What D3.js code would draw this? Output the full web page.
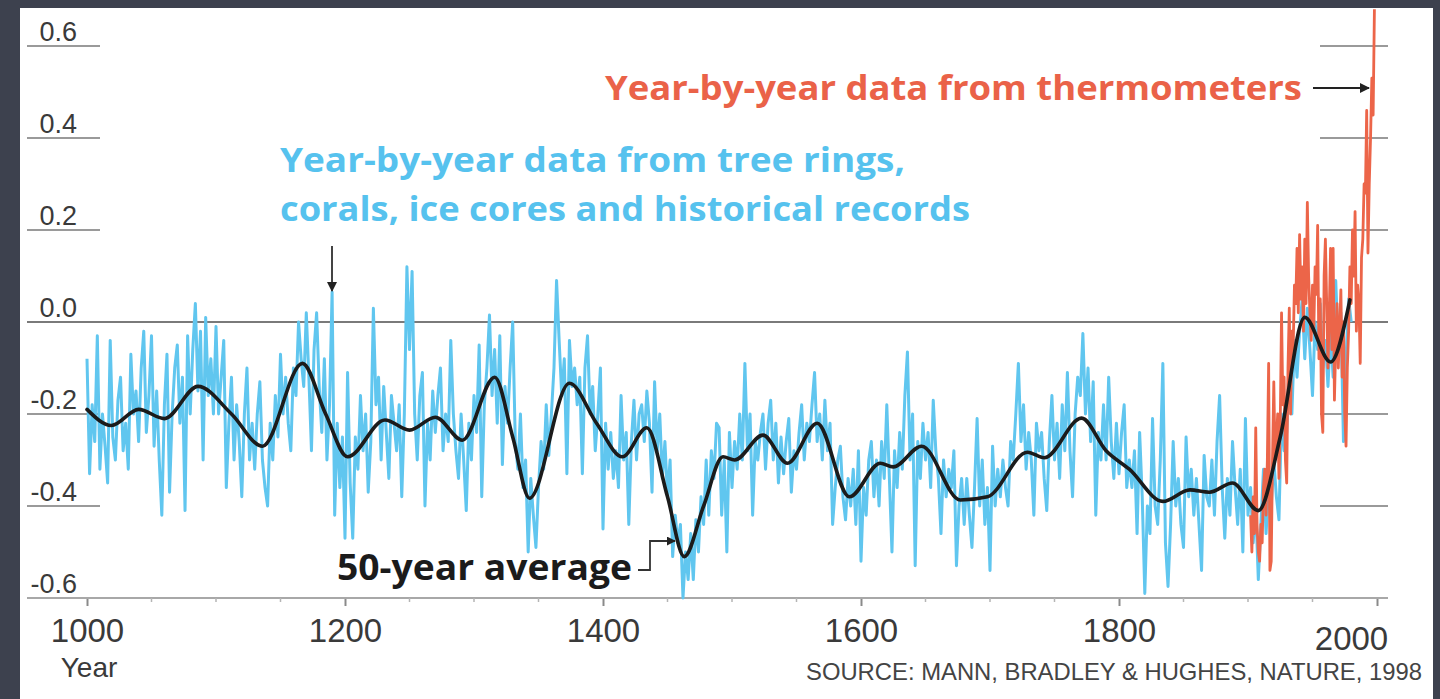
<!DOCTYPE html>
<html><head><meta charset="utf-8">
<script src="https://cdn.jsdelivr.net/npm/d3@7"></script>
<style>
html,body{margin:0;padding:0;background:#3d414e;overflow:hidden;}
svg{display:block}
</style></head><body>
<svg id="chart" width="1440" height="699"></svg>
<script>
// ---------------- DATA ----------------
// Reconstructed (proxy) annual anomalies, read every 2 years from 1000
const proxyStart = 1000;
const proxyStep = 2;
const proxyValues = [
-0.08,-0.33,-0.18,-0.26,-0.03, -0.32,-0.2,-0.27,-0.35,-0.04,
-0.25,-0.3,-0.17,-0.12,-0.28, -0.22,-0.32,-0.07,-0.2,-0.15,
-0.26,-0.1,-0.02,-0.24,-0.16, -0.03,-0.27,-0.15,-0.3,-0.42,
-0.18,-0.07,-0.37,-0.2,-0.1, -0.05,-0.22,-0.12,-0.41,-0.03,
-0.2,-0.06,0.04,-0.15,-0.02, -0.3,0.01,-0.16,-0.08,-0.2,
-0.01,-0.2,-0.12,-0.04,-0.36, -0.22,-0.12,-0.3,-0.18,-0.26,
-0.38,-0.2,-0.1,-0.3,-0.22, -0.32,-0.2,-0.13,-0.3,-0.36,
-0.4,-0.22,-0.3,-0.16,-0.25, -0.07,-0.2,-0.12,-0.22,-0.28,
-0.1,-0.16,0.0,-0.08,-0.14, 0.02,-0.12,-0.28,-0.06,0.02,
-0.14,-0.24,-0.08,-0.3,-0.18, 0.065,-0.42,-0.22,-0.36,-0.25,
-0.47,-0.11,-0.35,-0.47,-0.25, -0.32,-0.16,-0.28,-0.2,-0.37,
-0.26,0.03,-0.18,-0.12,-0.3, -0.14,-0.24,-0.34,-0.16,-0.22,
-0.28,-0.18,-0.38,-0.2,0.12, -0.06,0.11,-0.2,-0.3,-0.16,
-0.11,-0.4,-0.22,-0.3,-0.15, -0.24,-0.16,-0.1,-0.28,-0.2,
-0.26,-0.04,-0.2,-0.28,-0.34, -0.2,-0.3,-0.41,-0.22,-0.3,
-0.16,-0.24,-0.05,-0.38,-0.18, -0.1,0.015,-0.16,-0.06,-0.22,
-0.03,-0.31,-0.14,-0.22,-0.1, 0.0,-0.26,-0.32,-0.2,-0.36,
-0.3,-0.5,-0.34,-0.42,-0.49, -0.36,-0.26,-0.32,-0.18,-0.29,
-0.2,-0.1,0.09,-0.04,-0.16, -0.08,-0.33,-0.04,-0.14,-0.1,
-0.18,-0.12,-0.33,-0.1,-0.03, -0.2,-0.14,-0.28,-0.2,-0.1,
-0.45,-0.22,-0.32,-0.24,-0.34, -0.28,-0.36,-0.16,-0.3,-0.24,
-0.44,-0.26,-0.17,-0.3,-0.2, -0.18,-0.26,-0.15,-0.22,-0.37,
-0.13,-0.28,-0.2,-0.34,-0.26, -0.38,-0.3,-0.51,-0.42,-0.48,
-0.44,-0.6,-0.5,-0.56,-0.46, -0.56,-0.43,-0.5,-0.38,-0.44,
-0.3,-0.42,-0.28,-0.34,-0.22, -0.23,-0.42,-0.3,-0.5,-0.24,
-0.36,-0.26,-0.32,-0.2,-0.3, -0.09,-0.28,-0.2,-0.42,-0.26,
-0.3,-0.24,-0.2,-0.32,-0.22, -0.17,-0.3,-0.22,-0.35,-0.25,
-0.33,-0.26,-0.21,-0.37,-0.28, -0.32,-0.24,-0.18,-0.3,-0.22,
-0.26,-0.18,-0.11,-0.26,-0.2, -0.3,-0.17,-0.28,-0.22,-0.44,
-0.36,-0.3,-0.27,-0.38,-0.43, -0.34,-0.4,-0.32,-0.44,-0.28,
-0.52,-0.36,-0.42,-0.3,-0.26, -0.38,-0.3,-0.4,-0.26,-0.34,
-0.18,-0.34,-0.5,-0.28,-0.36, -0.24,-0.32,-0.16,-0.065,-0.3,
-0.2,-0.53,-0.26,-0.34,-0.22, -0.3,-0.24,-0.36,-0.17,-0.28,
-0.34,-0.46,-0.3,-0.38,-0.32, -0.36,-0.28,-0.53,-0.4,-0.34,
-0.44,-0.34,-0.42,-0.49,-0.36, -0.21,-0.4,-0.3,-0.44,-0.36,
-0.54,-0.27,-0.4,-0.32,-0.38, -0.3,-0.36,-0.4,-0.26,-0.3,
-0.2,-0.09,-0.26,-0.18,-0.32, -0.24,-0.3,-0.42,-0.22,-0.28,
-0.24,-0.34,-0.41,-0.26,-0.16, -0.3,-0.22,-0.34,-0.18,-0.28,
-0.11,-0.28,-0.38,-0.2,-0.12, -0.16,-0.025,-0.2,-0.1,-0.26,
-0.13,-0.42,-0.24,-0.3,-0.18, -0.3,-0.12,-0.26,-0.34,-0.22,
-0.33,-0.24,-0.18,-0.36,-0.3, -0.36,-0.28,-0.46,-0.24,-0.38,
-0.59,-0.4,-0.46,-0.21,-0.4, -0.44,-0.3,-0.09,-0.48,-0.575,
-0.44,-0.26,-0.4,-0.34,-0.44, -0.49,-0.25,-0.38,-0.32,-0.42,
-0.34,-0.44,-0.54,-0.29,-0.38, -0.4,-0.3,-0.42,-0.26,-0.16,
-0.36,-0.47,-0.34,-0.42,-0.26, -0.36,-0.44,-0.32,-0.5,-0.21,
-0.42,-0.36,-0.48,-0.4,-0.56, -0.44,-0.32,-0.46,-0.36,-0.4,
-0.3,-0.38,-0.43,-0.2,-0.28, -0.24,-0.1,-0.2,-0.04,-0.12,
-0.02,0.05,-0.08,0.03,-0.06, -0.16,0.0,-0.06,0.04,-0.1,
-0.04,-0.14,-0.02,-0.12,0.09, -0.06,0.02,-0.26,-0.08,0.05,
0.0
];

// Instrumental (thermometer) annual anomalies 1902-1998
const thermoStart = 1902;
const thermoValues = [
-0.42,-0.5,-0.38,-0.46,-0.23,-0.44,-0.5,-0.52,-0.44,-0.48,
-0.36,-0.32,-0.42,-0.3,-0.09,-0.54,-0.52,-0.3,-0.13,-0.3,
-0.26,-0.2,-0.34,-0.22,0.02,-0.18,-0.12,-0.3,-0.35,-0.1,
0.03,-0.2,-0.02,-0.06,0.08,0.04,0.16,0.02,0.19,0.05,
0.12,-0.02,0.18,0.04,0.26,0.1,0.02,-0.04,0.08,-0.02,
0.12,0.06,0.21,-0.08,0.05,-0.2,-0.24,0.1,0.18,0.04,
-0.1,0.02,0.16,-0.06,0.16,-0.17,-0.05,0.04,-0.1,-0.02,
0.07,-0.12,0.0,-0.2,-0.27,-0.1,-0.02,0.12,0.04,0.2,
0.1,0.24,-0.02,0.08,0.04,-0.09,0.14,0.18,0.3,0.28,
0.46,0.15,0.3,0.4,0.53,0.45,0.68
];

// 50-year average (smoothed), read at its turning points
const smoothYears = [1000,1019,1040,1060,1086,1112,1136,1167,1185,1202,1231,1250,1270,1291,1316,1330,1343,1374,1395,1415,1434,1450,1463,1478,1493,1502,1524,1543,1566,1591,1615,1625,1647,1677,1698,1729,1742,1771,1790,1808,1834,1855,1870,1888,1908,1925,1944,1964,1979];
const smoothValues = [-0.19,-0.225,-0.19,-0.21,-0.14,-0.2,-0.27,-0.09,-0.2,-0.293,-0.213,-0.235,-0.207,-0.257,-0.12,-0.25,-0.383,-0.133,-0.22,-0.293,-0.23,-0.38,-0.51,-0.4,-0.293,-0.3,-0.246,-0.307,-0.22,-0.38,-0.307,-0.315,-0.27,-0.387,-0.38,-0.283,-0.295,-0.209,-0.28,-0.32,-0.39,-0.365,-0.37,-0.35,-0.41,-0.25,0.01,-0.087,0.048];

const yTicks = [0.6, 0.4, 0.2, 0.0, -0.2, -0.4, -0.6];
const yTickLabels = ["0.6", "0.4", "0.2", "0.0", "-0.2", "-0.4", "-0.6"];
const xTicks = [1000, 1200, 1400, 1600, 1800, 2000];
const xMinorTicks = [1050,1100,1150,1250,1300,1350,1450,1500,1550,1650,1700,1750,1850,1900,1950];

// ---------------- CHART ----------------
const svg = d3.select("#chart");
const x = d3.scaleLinear().domain([1000, 2000]).range([87, 1377]);
const y = d3.scaleLinear().domain([-0.6, 0.6]).range([598, 46]);

// white panel
svg.append("rect").attr("x", 20).attr("y", 8).attr("width", 1413).attr("height", 700).attr("fill", "#ffffff");

const g = svg.append("g");

// gridline stubs
const grid = g.append("g");
yTicks.forEach(t => {
  if (t === 0 || t === -0.6) return;
  grid.append("line").attr("x1", 27).attr("x2", 100).attr("y1", y(t)).attr("y2", y(t))
    .attr("stroke", "#9a9a9a").attr("stroke-width", 2);
  grid.append("line").attr("x1", 1320).attr("x2", 1388).attr("y1", y(t)).attr("y2", y(t))
    .attr("stroke", "#9a9a9a").attr("stroke-width", 2);
});
// zero line
grid.append("line").attr("x1", 27).attr("x2", 1388).attr("y1", y(0)).attr("y2", y(0))
  .attr("stroke", "#7a7a7a").attr("stroke-width", 2.2);

// y labels
g.append("g").selectAll("text").data(yTicks).join("text")
  .attr("x", 77).attr("y", d => y(d) - 5)
  .attr("text-anchor", "end")
  .attr("font-family", "Liberation Sans, Arial, sans-serif")
  .attr("font-size", 27).attr("fill", "#3a3a3a")
  .text((d, i) => yTickLabels[i]);

// x axis
const xAxis = d3.axisBottom(x).tickValues(xTicks).tickSize(8).tickFormat(d3.format("d"));
const ax = g.append("g").attr("transform", `translate(0,${y(-0.6)})`).call(xAxis);
ax.select(".domain").remove();
ax.append("line").attr("x1", 27).attr("x2", 1388).attr("y1", 0).attr("y2", 0)
  .attr("stroke", "#a8a8a8").attr("stroke-width", 2);
ax.selectAll(".tick line").attr("stroke", "#8a8a8a").attr("stroke-width", 2);
ax.selectAll(".tick text")
  .attr("font-family", "Liberation Sans, Arial, sans-serif")
  .attr("font-size", 33).attr("fill", "#3a3a3a").attr("dy", null).attr("y", 44);
ax.selectAll(".tick").filter(d => d === 2000).select("text").attr("x", -26).attr("y", 52);
ax.selectAll(".minor").data(xMinorTicks).join("line").attr("class", "minor")
  .attr("x1", d => x(d)).attr("x2", d => x(d)).attr("y1", 0).attr("y2", 4)
  .attr("stroke", "#b5b5b5").attr("stroke-width", 1.5);

g.append("text").attr("x", 89).attr("y", 677).attr("text-anchor", "middle")
  .attr("font-family", "Liberation Sans, Arial, sans-serif").attr("font-size", 28).attr("fill", "#3a3a3a")
  .text("Year");

g.append("text").attr("x", 806).attr("y", 680)
  .attr("font-family", "Liberation Sans, Arial, sans-serif").attr("font-size", 24).attr("fill", "#444")
  .attr("textLength", 616).attr("lengthAdjust", "spacingAndGlyphs")
  .text("SOURCE: MANN, BRADLEY & HUGHES, NATURE, 1998");

// data lines
const proxy = proxyValues.map((v, i) => ({year: proxyStart + i * proxyStep, value: v}));
const thermo = thermoValues.map((v, i) => ({year: thermoStart + i, value: v}));
const smooth = smoothYears.map((yr, i) => ({year: yr, value: smoothValues[i]}));

const line = d3.line().x(d => x(d.year)).y(d => y(d.value));
g.append("path").datum(proxy).attr("d", line).attr("fill", "none")
  .attr("stroke", "#60c6ef").attr("stroke-width", 3).attr("stroke-linejoin", "round");
g.append("path").datum(thermo).attr("d", line).attr("fill", "none")
  .attr("stroke", "#ec6549").attr("stroke-width", 2.8).attr("stroke-linejoin", "round");
const smoothLine = d3.line().x(d => x(d.year)).y(d => y(d.value)).curve(d3.curveMonotoneX);
g.append("path").datum(smooth).attr("d", smoothLine).attr("fill", "none")
  .attr("stroke", "#1b1b1b").attr("stroke-width", 3.6).attr("stroke-linecap", "round");

// arrow markers
const defs = svg.append("defs");
defs.append("marker").attr("id", "ah").attr("viewBox", "0 0 10 10").attr("refX", 9).attr("refY", 5)
  .attr("markerWidth", 5).attr("markerHeight", 5).attr("orient", "auto")
  .append("path").attr("d", "M0,0 L10,5 L0,10 z").attr("fill", "#222");

// annotations
const bold = "Open Sans, Lato, sans-serif";
g.append("text").attr("x", 605).attr("y", 100)
  .attr("font-family", bold).attr("font-weight", 700).attr("font-size", 34).attr("fill", "#ea6248")
  .attr("textLength", 697).attr("lengthAdjust", "spacingAndGlyphs")
  .text("Year-by-year data from thermometers");
g.append("line").attr("x1", 1313).attr("x2", 1369).attr("y1", 88).attr("y2", 88)
  .attr("stroke", "#222").attr("stroke-width", 2).attr("marker-end", "url(#ah)");

g.append("text").attr("x", 280).attr("y", 172)
  .attr("font-family", bold).attr("font-weight", 700).attr("font-size", 34).attr("fill", "#56c2ee")
  .attr("textLength", 625).attr("lengthAdjust", "spacingAndGlyphs")
  .text("Year-by-year data from tree rings,");
g.append("text").attr("x", 280).attr("y", 221)
  .attr("font-family", bold).attr("font-weight", 700).attr("font-size", 34).attr("fill", "#56c2ee")
  .attr("textLength", 690).attr("lengthAdjust", "spacingAndGlyphs")
  .text("corals, ice cores and historical records");
g.append("line").attr("x1", 332).attr("x2", 332).attr("y1", 246).attr("y2", 291)
  .attr("stroke", "#444").attr("stroke-width", 2).attr("marker-end", "url(#ah)");

g.append("text").attr("x", 337).attr("y", 580)
  .attr("font-family", bold).attr("font-weight", 700).attr("font-size", 36).attr("fill", "#1b1b1b")
  .attr("textLength", 295).attr("lengthAdjust", "spacingAndGlyphs")
  .text("50-year average");
g.append("path").attr("d", "M638,570 H650 V541 H675").attr("fill", "none")
  .attr("stroke", "#333").attr("stroke-width", 1.8).attr("marker-end", "url(#ah)");
</script>
</body></html>
